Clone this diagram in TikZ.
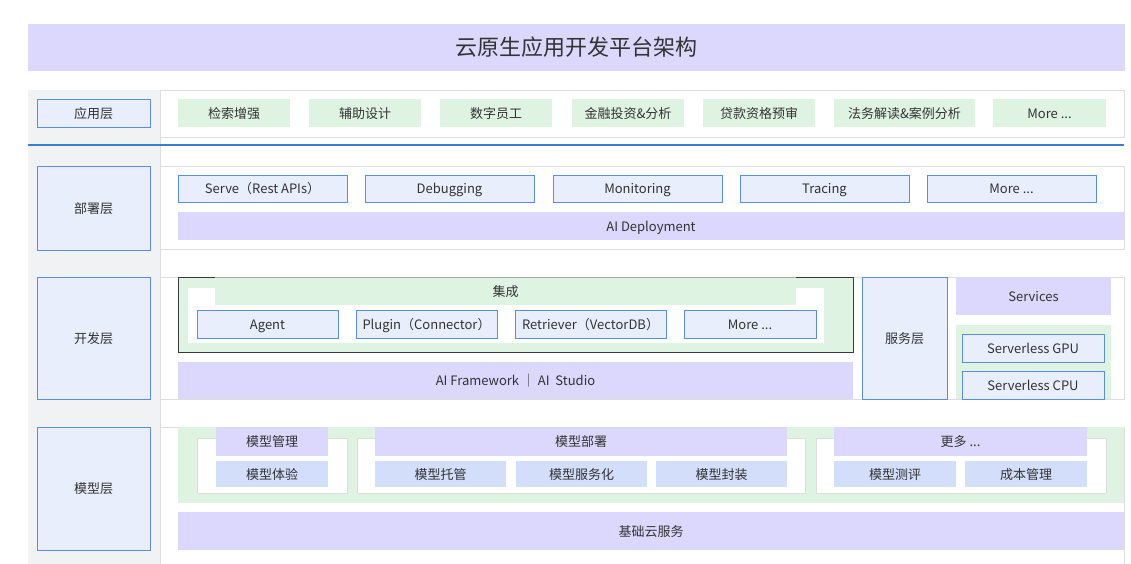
\documentclass[tikz,border=0pt]{standalone}
\usepackage{fontspec}
\setmainfont{Noto Sans CJK SC}
\definecolor{cPurp}{HTML}{DCD7FC}
\definecolor{cGreen}{HTML}{DFF3E3}
\definecolor{cLbl}{HTML}{E8EEFC}
\definecolor{cLblB}{HTML}{D2DEFA}
\definecolor{cBorder}{HTML}{5A8EDA}
\definecolor{cGray}{HTML}{F1F2F4}
\definecolor{cLine}{HTML}{DDDDDD}
\definecolor{cMid}{HTML}{A8A8A8}
\definecolor{cRule}{HTML}{3D7CCF}
\definecolor{cTxt}{HTML}{333333}
\definecolor{cDark}{HTML}{3A3A3A}
\tikzset{
  every node/.style={inner sep=0pt, outer sep=0pt, anchor=north west,
    font=\fontsize{13}{15}\selectfont, text=cTxt, text height=12.6pt, text depth=2pt},
  purpbox/.style={fill=cPurp},
  grnbox/.style={fill=cGreen},
  lblbox/.style={fill=cLbl, draw=cBorder, line width=0.9pt},
  lightbox/.style={fill=cLblB},
  rowbox/.style={fill=white, draw=cLine, line width=0.9pt},
  whitebox/.style={fill=white, draw=cLine, line width=0.6pt},
}
\begin{document}
\begin{tikzpicture}[x=1pt,y=-1pt]
\useasboundingbox (0,0) rectangle (1131,564);
% title
\node[purpbox, minimum width=1097pt, minimum height=47pt, font=\fontsize{22}{26}\selectfont, text height=19pt, text depth=2pt] (title) at (28,24) {云原生应用开发平台架构};
% left gray column
\node[fill=cGray, minimum width=132pt, minimum height=474pt] (col) at (28,90) {};
\coordinate (colTop) at (160,90);
\coordinate (colBot) at (160,564);
\draw[cLine, line width=0.9pt] (colTop) -- (colBot);
% rows
\node[rowbox, minimum width=964pt, minimum height=47pt] (rowApp) at (160,90) {};
\node[rowbox, minimum width=964pt, minimum height=83pt] (rowDep) at (160,166) {};
\node[rowbox, minimum width=964pt, minimum height=122pt] (rowDev) at (160,277) {};
\node[rowbox, minimum width=964pt, minimum height=145pt] (rowMod) at (160,427) {};
% blue rule
\coordinate (ruleL) at (28,145.5);
\coordinate (ruleR) at (1124,145.5);
\draw[cRule, line width=2pt] (ruleL) -- (ruleR);
% layer labels
\node[lblbox, minimum width=113pt, minimum height=28pt] (lApp) at (37,99) {应用层};
\node[lblbox, minimum width=113pt, minimum height=84pt] (lDep) at (37,166) {部署层};
\node[lblbox, minimum width=113pt, minimum height=122pt] (lDev) at (37,277) {开发层};
\node[lblbox, minimum width=113pt, minimum height=123pt] (lMod) at (37,427) {模型层};
% application items
\node[grnbox, minimum width=112pt, minimum height=28pt] (a1) at (178,99) {检索增强};
\node[grnbox, minimum width=112pt, minimum height=28pt] (a2) at (309,99) {辅助设计};
\node[grnbox, minimum width=112pt, minimum height=28pt] (a3) at (440,99) {数字员工};
\node[grnbox, minimum width=112pt, minimum height=28pt] (a4) at (572,99) {金融投资\&分析};
\node[grnbox, minimum width=112pt, minimum height=28pt] (a5) at (703,99) {贷款资格预审};
\node[grnbox, minimum width=141pt, minimum height=28pt] (a6) at (834,99) {法务解读\&案例分析};
\node[grnbox, minimum width=113pt, minimum height=28pt] (a7) at (993,99) {More ...};
% deployment items
\node[lblbox, minimum width=169pt, minimum height=27pt] (d1) at (178,175) {Serve（Rest APIs）};
\node[lblbox, minimum width=169pt, minimum height=27pt] (d2) at (365,175) {Debugging};
\node[lblbox, minimum width=169pt, minimum height=27pt] (d3) at (553,175) {Monitoring};
\node[lblbox, minimum width=169pt, minimum height=27pt] (d4) at (740,175) {Tracing};
\node[lblbox, minimum width=169pt, minimum height=27pt] (d5) at (927,175) {More ...};
\node[purpbox, minimum width=946pt, minimum height=28pt] (dBar) at (178,212) {AI Deployment};
% development
\node[grnbox, draw=cDark, line width=0.9pt, minimum width=675pt, minimum height=75pt] (integ) at (178,277) {};
\node[fill=white, minimum width=636pt, minimum height=55pt] (integIn) at (188,288) {};
\node[grnbox, minimum width=581pt, minimum height=28pt] (integHd) at (215,277) {集成};
\draw[cMid, line width=0.9pt] (integHd.north west) -- (integHd.north east);
\node[lblbox, minimum width=141pt, minimum height=28pt] (v1) at (197,310) {Agent};
\node[lblbox, minimum width=141pt, minimum height=28pt] (v2) at (356,310) {Plugin（Connector）};
\node[lblbox, minimum width=151pt, minimum height=28pt] (v3) at (515,310) {Retriever（VectorDB）};
\node[lblbox, minimum width=132pt, minimum height=28pt] (v4) at (684,310) {More ...};
\node[purpbox, minimum width=675pt, minimum height=37pt] (vBar) at (178,362) {AI Framework ｜ AI\ \ Studio};
\node[lblbox, minimum width=85pt, minimum height=122pt] (svc) at (862,277) {服务层};
\node[purpbox, minimum width=155pt, minimum height=38pt] (svcs) at (956,277) {Services};
\node[grnbox, minimum width=155pt, minimum height=74pt] (svArea) at (956,325) {};
\node[lblbox, minimum width=142pt, minimum height=28pt] (gpu) at (962,334) {Serverless GPU};
\node[lblbox, minimum width=142pt, minimum height=28pt] (cpu) at (962,371) {Serverless CPU};
% model layer
\node[grnbox, minimum width=946pt, minimum height=76pt] (mArea) at (178,427) {};
\node[whitebox, minimum width=150pt, minimum height=55pt] (mb1) at (197,438) {};
\node[whitebox, minimum width=448pt, minimum height=55pt] (mb2) at (357,438) {};
\node[whitebox, minimum width=290pt, minimum height=55pt] (mb3) at (816,438) {};
\node[purpbox, minimum width=112pt, minimum height=29pt] (m1) at (216,427) {模型管理};
\node[lightbox, minimum width=112pt, minimum height=26pt] (m1a) at (216,461) {模型体验};
\node[purpbox, minimum width=412pt, minimum height=29pt] (m2) at (375,427) {模型部署};
\node[lightbox, minimum width=131pt, minimum height=26pt] (m2a) at (375,461) {模型托管};
\node[lightbox, minimum width=131pt, minimum height=26pt] (m2b) at (516,461) {模型服务化};
\node[lightbox, minimum width=131pt, minimum height=26pt] (m2c) at (656,461) {模型封装};
\node[purpbox, minimum width=253pt, minimum height=29pt] (m3) at (834,427) {更多 ...};
\node[lightbox, minimum width=122pt, minimum height=26pt] (m3a) at (834,461) {模型测评};
\node[lightbox, minimum width=122pt, minimum height=26pt] (m3b) at (965,461) {成本管理};
\node[purpbox, minimum width=946pt, minimum height=38pt] (base) at (178,512) {基础云服务};
\end{tikzpicture}
\end{document}
